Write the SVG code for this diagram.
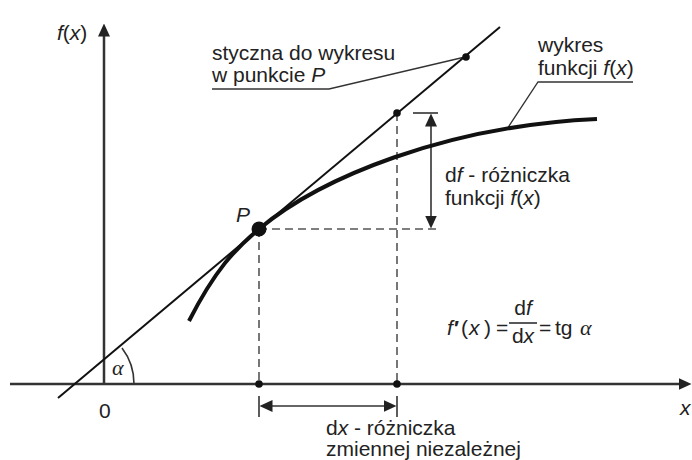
<svg xmlns="http://www.w3.org/2000/svg" width="692" height="460" viewBox="0 0 692 460">
<style>
text{font-family:"Liberation Sans",Arial,sans-serif;font-size:21px;fill:#222}
.i{font-style:italic}
.g{font-family:"Liberation Serif","DejaVu Serif",serif;font-style:italic;font-size:22px}
.axis{stroke:#333;stroke-width:2.5;fill:none}
.tan{stroke:#111;stroke-width:2;fill:none}
.curve{stroke:#111;stroke-width:4;fill:none}
.dash{stroke:#555;stroke-width:1.6;stroke-dasharray:8 5;fill:none}
.dim{stroke:#333;stroke-width:1.6;fill:none}
.lead{stroke:#333;stroke-width:1.3;fill:none}
.dot{fill:#111}
</style>
<defs>
<marker id="ah" viewBox="0 0 13 12" refX="0.5" refY="6" markerWidth="13" markerHeight="12" markerUnits="userSpaceOnUse" orient="auto-start-reverse">
<path d="M0,0 L13,6 L0,12 z" fill="#222"/>
</marker>
</defs>
<g id="connectors">
<line class="dash" x1="259" y1="229" x2="259" y2="384"/>
<line class="dash" x1="397" y1="113" x2="397" y2="384"/>
<line class="dash" x1="259" y1="229" x2="438" y2="229"/>
<line class="dim" x1="413" y1="113" x2="438" y2="113"/>
<line class="dim" x1="431" y1="126" x2="431" y2="216" marker-start="url(#ah)" marker-end="url(#ah)"/>
<line class="dim" x1="259" y1="396" x2="259" y2="417"/>
<line class="dim" x1="397" y1="396" x2="397" y2="417"/>
<line class="dim" x1="272" y1="406" x2="384" y2="406" marker-start="url(#ah)" marker-end="url(#ah)"/>
<polyline class="lead" points="212,89 329,89 465,57"/>
<polyline class="lead" points="633,82 538,82 507,129"/>
</g>
<g id="axes">
<line class="axis" x1="10" y1="384" x2="679" y2="384" marker-end="url(#ah)"/>
<line class="axis" x1="104" y1="385" x2="104" y2="36" marker-end="url(#ah)"/>
<path class="dim" d="M134,384 A59,59 0 0 0 122,348"/>
</g>
<g id="tangent">
<line class="tan" x1="58" y1="398" x2="500" y2="27"/>
</g>
<g id="curve">
<path class="curve" d="M189,321 C215,270 235,249 259,229 C320,178 445,126 597,119"/>
</g>
<g id="points">
<circle class="dot" cx="259" cy="229" r="7.5"/>
<circle class="dot" cx="397" cy="113" r="3.8"/>
<circle class="dot" cx="466" cy="57" r="3.8"/>
<circle class="dot" cx="259" cy="384" r="3.8"/>
<circle class="dot" cx="397" cy="384" r="3.8"/>
</g>
<g id="labels">
<text x="57" y="40"><tspan class="i">f</tspan>(<tspan class="i">x</tspan>)</text>
<text x="212" y="60">styczna do wykresu</text>
<text x="212" y="82">w punkcie <tspan class="i">P</tspan></text>
<text x="538" y="52">wykres</text>
<text x="538" y="75">funkcji <tspan class="i">f</tspan>(<tspan class="i">x</tspan>)</text>
<text x="445" y="182">d<tspan class="i">f</tspan> - różniczka</text>
<text x="445" y="205">funkcji <tspan class="i">f</tspan>(<tspan class="i">x</tspan>)</text>
<text class="i" x="236" y="222">P</text>
<text class="g" x="112" y="375">α</text>
<text x="99" y="418">0</text>
<text class="i" x="680" y="415">x</text>
<text x="326" y="435">d<tspan class="i">x</tspan> - różniczka</text>
<text x="326" y="456">zmiennej niezależnej</text>
</g>
<g id="formula">
<text class="i" x="447" y="335">f</text>
<text x="454" y="335" font-weight="bold">′</text>
<text x="461" y="335">(</text>
<text class="i" x="469" y="335">x</text>
<text x="484" y="335">)</text>
<text x="496" y="335" font-size="19">=</text>
<text x="523" y="315" text-anchor="middle">d<tspan class="i">f</tspan></text>
<line x1="509" y1="323" x2="537" y2="323" stroke="#222" stroke-width="1.5"/>
<text x="523" y="343" text-anchor="middle">d<tspan class="i">x</tspan></text>
<text x="539" y="335" font-size="19">=</text>
<text x="555" y="335">tg</text>
<text class="g" x="580" y="335" font-size="24">α</text>
</g>
</svg>
